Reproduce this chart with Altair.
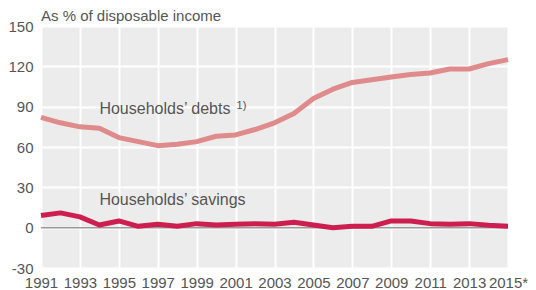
import altair as alt
import pandas as pd

years = list(range(1991, 2016))
debts = [82, 78, 75, 74, 67, 64, 61, 62, 64, 68, 69, 73, 78, 85, 96, 103, 108, 110, 112, 114, 115, 118, 118, 122, 125]
savings = [9, 11, 8, 2, 5, 1, 2.5, 1, 3, 2, 2.5, 3, 2.5, 4, 2, 0, 1, 1, 5, 5, 3, 2.5, 3, 1.8, 1]

x_ticks = list(range(1991, 2016, 2))
y_ticks = [-30, 0, 30, 60, 90, 120, 150]

labels = ["Households\u2019 debts", "Households\u2019 savings"]
label_x = [1994.0, 1994.0]
label_y = [88.5, 20.5]
sup_text = ["1)"]
sup_x = [2001.05]
sup_y = [90.8]
title_text = ["As % of disposable income"]

df = pd.DataFrame({"year": years, "debts": debts, "savings": savings})
lab = pd.DataFrame({"text": labels, "x": label_x, "y": label_y})
sup = pd.DataFrame({"text": sup_text, "x": sup_x, "y": sup_y})
ttl = pd.DataFrame({"text": title_text})
zero = pd.DataFrame({"y": [0]})

FONT = "Liberation Sans"
TXT = "#555555"

xs = alt.Scale(domain=[1991, 2015], nice=False, zero=False)
ys = alt.Scale(domain=[-30, 150], nice=False, zero=False)

xaxis = alt.Axis(values=x_ticks, labelExpr="datum.value == 2015 ? '2015*' : '' + datum.value",
                 grid=True, gridColor="white", gridWidth=2, domain=False, ticks=False,
                 labelFontSize=15, labelColor=TXT, labelFont=FONT, labelPadding=7, title=None,
                 labelFlush=False, labelOverlap=False)
yaxis = alt.Axis(values=y_ticks, labelExpr="'' + datum.value",
                 grid=True, gridColor="white", gridWidth=2, domain=False, ticks=False,
                 labelFontSize=15, labelColor=TXT, labelFont=FONT, labelPadding=8, title=None,
                 labelOverlap=False)

def X(f):
    return alt.X(f, type="quantitative", scale=xs, axis=xaxis)

def Y(f):
    return alt.Y(f, type="quantitative", scale=ys, axis=yaxis)

base = alt.Chart(df)

zline = alt.Chart(zero).mark_rule(color="#9a9a9a", strokeWidth=1.5).encode(y=Y("y"))

debt_line = base.mark_line(color="#e08b8b", strokeWidth=5, strokeJoin="round").encode(
    x=X("year"), y=Y("debts"))
sav_line = base.mark_line(color="#cc1f4f", strokeWidth=5, strokeJoin="round").encode(
    x=X("year"), y=Y("savings"))

text = alt.Chart(lab).mark_text(align="left", baseline="middle", fontSize=16, font=FONT, color=TXT).encode(
    x=X("x"), y=Y("y"), text="text:N")
suptext = alt.Chart(sup).mark_text(align="left", baseline="middle", fontSize=11, font=FONT, color=TXT).encode(
    x=X("x"), y=Y("y"), text="text:N")
title = alt.Chart(ttl).mark_text(align="left", baseline="alphabetic", fontSize=15, font=FONT, color=TXT).encode(
    x=alt.value(0), y=alt.value(-5), text="text:N")

chart = alt.layer(zline, debt_line, sav_line, text, suptext, title).properties(
    width=467, height=242,
    autosize=alt.AutoSizeParams(type="none"),
    padding={"left": 33, "top": 18, "right": 20, "bottom": 22},
).configure_view(fill="#ebeceb", stroke=None).configure_axis(labelOverlap=False)

chart.save("out.html", embed_options={"renderer": "svg", "actions": False})
